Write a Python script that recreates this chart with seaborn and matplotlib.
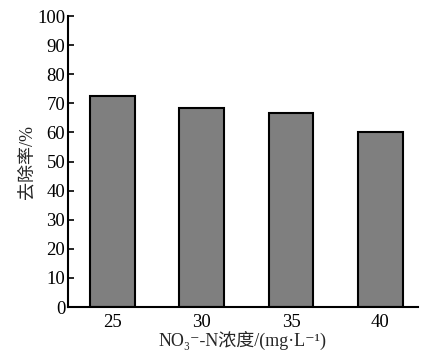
import matplotlib
matplotlib.use("Agg")
import matplotlib.pyplot as plt
import seaborn as sns
import pandas as pd

categories = ["25", "30", "35", "40"]
removal = [72.5, 68.3, 66.8, 60.0]
yticks = [0, 10, 20, 30, 40, 50, 60, 70, 80, 90, 100]

sns.set_style("ticks")
plt.rcParams['font.family'] = ['Liberation Serif', 'Noto Sans CJK SC', 'DejaVu Serif']
plt.rcParams['axes.unicode_minus'] = False

df = pd.DataFrame({"conc": categories, "rate": removal})

fig = plt.figure(figsize=(4.22, 3.56), dpi=100)
ax = fig.add_axes([0.161, 0.1376, 0.829, 0.8174])
sns.barplot(data=df, x="conc", y="rate", order=categories, color="#7f7f7f",
            saturation=1, edgecolor="black", linewidth=1.5, width=0.5, ax=ax)
ax.set_ylim(0, 100)
ax.set_xlim(-0.5, 3.42)
ax.set_yticks(yticks)
ax.set_yticklabels([str(v) for v in yticks])
sns.despine(ax=ax, top=True, right=True)
for s in ["left", "bottom"]:
    ax.spines[s].set_linewidth(1.5)
    ax.spines[s].set_color("black")
ax.tick_params(direction="in", length=4, width=1.2, labelsize=13.5, colors="black", pad=2)
ax.tick_params(axis="x", pad=5)
ax.set_xlabel("NO₃⁻-N浓度/(mg·L⁻¹)", fontsize=13, labelpad=0)
ax.set_ylabel("去除率/%", fontsize=13, labelpad=1)
fig.savefig("out.png", dpi=100)
